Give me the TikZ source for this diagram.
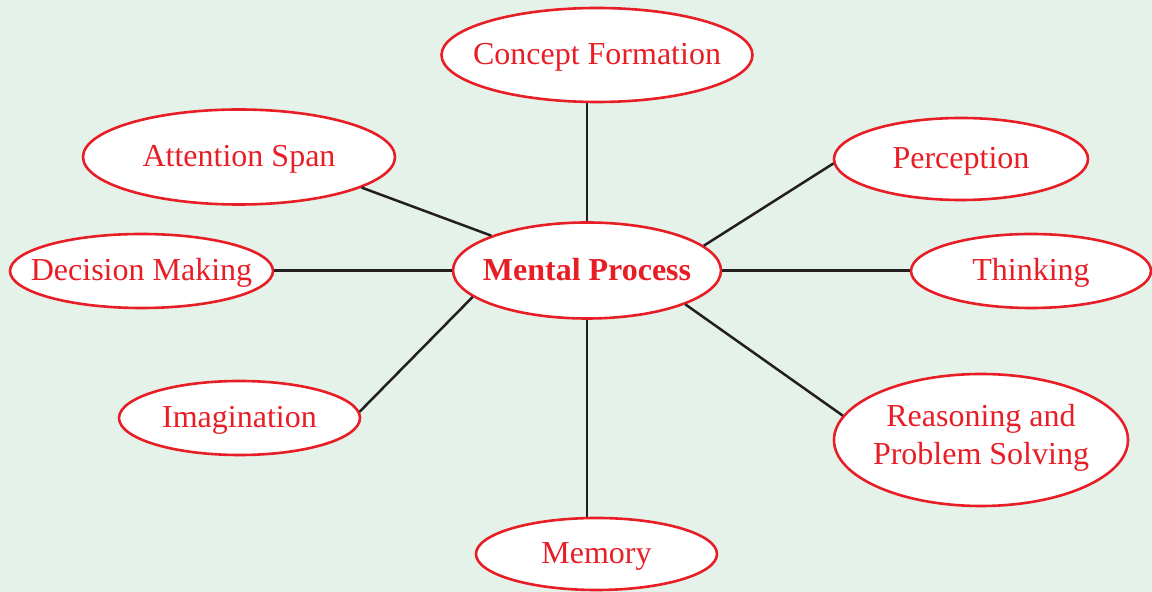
\documentclass[tikz,border=0pt]{standalone}
\usepackage{fontspec}
\setmainfont{Liberation Serif}
\usetikzlibrary{shapes.geometric}
\definecolor{bgmint}{RGB}{228,242,233}
\definecolor{mapred}{RGB}{232,30,38}
\definecolor{linkgray}{RGB}{35,31,32}
% zero-size text block, so the ellipse keeps exactly its given size;
% the optional argument lowers the text onto its baseline
\newcommand{\bubbletext}[2][-5.2pt]{\raisebox{#1}[0pt][0pt]{\makebox[0pt]{\begin{tabular}{@{}c@{}}#2\end{tabular}}}}
\tikzset{
  bubble/.style={ellipse, draw=mapred, line width=1.3pt, fill=white,
    text=mapred, inner sep=0pt,
    font=\fontsize{16}{19}\selectfont},
  hub/.style={bubble, font=\fontsize{16}{19}\selectfont\bfseries},
  link/.style={draw=linkgray, line width=1.25pt}
}
\begin{document}
\begin{tikzpicture}[x=0.5pt, y=-0.5pt]
  % backdrop
  \fill[bgmint] (0,0) rectangle (1152,592);
  \useasboundingbox (0,0) rectangle (1152,592);

  % central concept
  \node[hub, minimum width=134pt, minimum height=48pt] (mp) at (587,270.5) {\bubbletext[-5.5pt]{Mental Process}};

  % surrounding concepts
  \node[bubble, minimum width=155.5pt, minimum height=47pt] (cf) at (597,55) {\bubbletext{Concept Formation}};
  \node[bubble, minimum width=156pt, minimum height=47.5pt] (as) at (239,157) {\bubbletext{Attention Span}};
  \node[bubble, minimum width=127pt, minimum height=41pt] (pe) at (961,159) {\bubbletext{Perception}};
  \node[bubble, minimum width=131.5pt, minimum height=37pt] (dm) at (141.5,271) {\bubbletext{Decision Making}};
  \node[bubble, minimum width=120pt, minimum height=37pt] (th) at (1031,271) {\bubbletext{Thinking}};
  \node[bubble, minimum width=120.5pt, minimum height=37pt] (im) at (239.5,418) {\bubbletext{Imagination}};
  \node[bubble, minimum width=147pt, minimum height=66pt] (rp) at (981,440) {\bubbletext[-3.3pt]{Reasoning and\\Problem Solving}};
  \node[bubble, minimum width=120.5pt, minimum height=36pt] (me) at (596.5,554) {\bubbletext{Memory}};

  % spokes
  \draw[link] (mp.north) -- (mp.north |- cf.south);
  \draw[link] (mp.160.8) -- (as.-14);
  \draw[link] (mp.west) -- (mp.west -| dm.east);
  \draw[link] (mp.193) -- (im.3);
  \draw[link] (mp.south) -- (mp.south |- me.north);
  \draw[link] (mp.-19.8) -- (rp.170.3);
  \draw[link] (mp.east) -- (mp.east -| th.west);
  \draw[link] (mp.12.7) -- (pe.182.7);
\end{tikzpicture}
\end{document}
